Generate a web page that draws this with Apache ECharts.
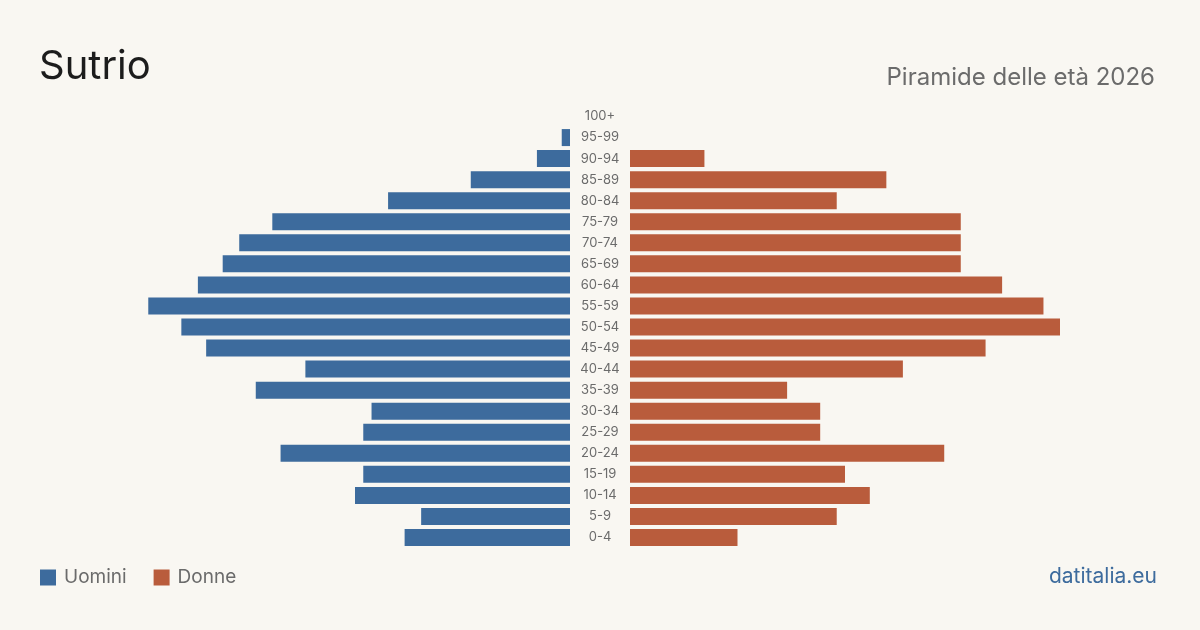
<!DOCTYPE html>
<html>
<head>
<meta charset="utf-8">
<script src="https://cdn.jsdelivr.net/npm/echarts@6/dist/echarts.min.js"></script>
<style>
html, body { margin: 0; padding: 0; background: #f9f7f2; }
#chart { width: 1200px; height: 630px; }
</style>
</head>
<body>
<div id="chart"></div>
<script>
// classi di età, dall'alto verso il basso
var eta = ['100+', '95-99', '90-94', '85-89', '80-84', '75-79', '70-74', '65-69', '60-64', '55-59',
	'50-54', '45-49', '40-44', '35-39', '30-34', '25-29', '20-24', '15-19', '10-14', '5-9', '0-4'];
var uomini = [0, 1, 4, 12, 22, 36, 40, 42, 45, 51, 47, 44, 32, 38, 24, 25, 35, 25, 26, 18, 20];
var donne  = [0, 0, 9, 31, 25, 40, 40, 40, 45, 50, 52, 43, 33, 19, 23, 23, 38, 26, 29, 25, 13];

var maxVal = Math.max.apply(null, uomini.concat(donne));
var blu = '#3d6b9d';
var rosso = '#b95c3c';
var font = 'Inter, "Noto Sans", sans-serif';

var myChart = echarts.init(document.getElementById('chart'));
var option = {
	backgroundColor: '#f9f7f2',
	animation: false,
	title: [
		{
			text: 'Sutrio',
			left: 34,
			top: 42,
			textStyle: { color: '#1c1c1c', fontFamily: font, fontSize: 40, fontWeight: 'normal' }
		},
		{
			text: 'Piramide delle età 2026',
			right: 40,
			top: 61,
			textStyle: { color: '#6b6b6b', fontFamily: font, fontSize: 24, fontWeight: 'normal' }
		}
	],
	legend: {
		left: 40,
		top: 568,
		padding: 0,
		icon: 'rect',
		itemWidth: 16,
		itemHeight: 16,
		itemGap: 27,
		textStyle: { color: '#6b6b6b', fontFamily: font, fontSize: 19, padding: [0, 0, 0, 3] },
		data: ['Uomini', 'Donne']
	},
	graphic: [
		{
			type: 'text',
			right: 43,
			top: 566,
			style: { text: 'datitalia.eu', fill: '#3d6b9d', font: '21px ' + font }
		}
	],
	grid: [
		{ left: 140, width: 430, top: 106, height: 442 },
		{ left: 630, width: 430, top: 106, height: 442 }
	],
	xAxis: [
		{ gridIndex: 0, type: 'value', min: 0, max: maxVal, inverse: true, show: false },
		{ gridIndex: 1, type: 'value', min: 0, max: maxVal, show: false }
	],
	yAxis: [
		{
			gridIndex: 0, type: 'category', data: eta, inverse: true,
			axisLine: { show: false }, axisTick: { show: false }, axisLabel: { show: false }
		},
		{
			gridIndex: 1, type: 'category', data: eta, inverse: true, position: 'left',
			axisLine: { show: false }, axisTick: { show: false },
			axisLabel: { margin: 30, align: 'center', color: '#6b6b6b', fontFamily: font, fontSize: 13, padding: [2, 0, 0, 0] }
		}
	],
	series: [
		{
			name: 'Uomini', type: 'bar', xAxisIndex: 0, yAxisIndex: 0,
			data: uomini, barWidth: 17, itemStyle: { color: blu }
		},
		{
			name: 'Donne', type: 'bar', xAxisIndex: 1, yAxisIndex: 1,
			data: donne, barWidth: 17, itemStyle: { color: rosso }
		}
	]
};
myChart.setOption(option, true);
</script>
</body>
</html>
